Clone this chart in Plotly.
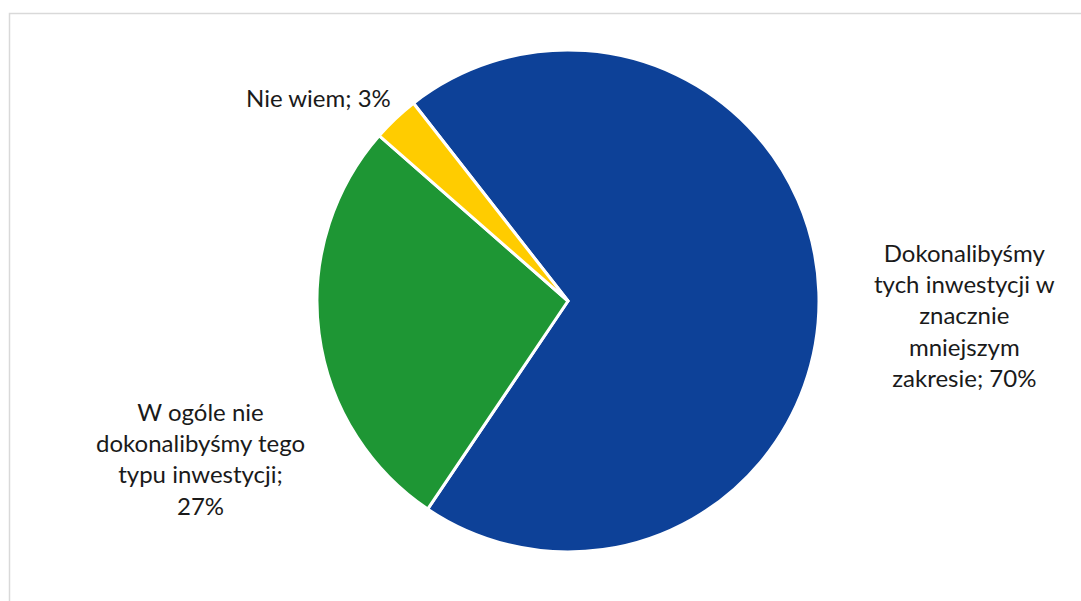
import plotly.graph_objects as go

# Survey answers and their shares (%)
labels = [
    "Dokonalibyśmy<br>tych inwestycji w<br>znacznie<br>mniejszym<br>zakresie",
    "W ogóle nie<br>dokonalibyśmy tego<br>typu inwestycji;<br>",
    "Nie wiem",
]
values = [70, 27, 3]
colors = ["#0D4198", "#1E9634", "#FFCC00"]

W, H = 1081, 601
cx, cy, r = 568, 301, 251

fig = go.Figure(
    go.Pie(
        labels=labels,
        values=values,
        sort=False,
        direction="clockwise",
        rotation=-38,
        marker=dict(colors=colors, line=dict(color="white", width=3)),
        textinfo="none",
        hoverinfo="label+percent",
        domain=dict(x=[(cx - r) / W, (cx + r) / W],
                    y=[(H - cy - r) / H, (H - cy + r) / H]),
        showlegend=False,
    )
)

# Outside data labels: "<category>; <value>%"
label_pos = [
    dict(x=964 / W, y=1 - 315 / H, xanchor="center", align="center"),
    dict(x=200 / W, y=1 - 458 / H, xanchor="center", align="center"),
    dict(x=393 / W, y=1 - 98 / H, xanchor="right", align="right"),
]
annotations = []
for lab, val, pos in zip(labels, values, label_pos):
    sep = "" if lab.endswith("<br>") else "; "
    annotations.append(dict(
        text=f"{lab}{sep}{val}%",
        xref="paper", yref="paper",
        x=pos["x"], y=pos["y"],
        xanchor=pos["xanchor"], yanchor="middle",
        align=pos["align"], showarrow=False,
        font=dict(family="Lato, Carlito, sans-serif", size=24, color="#1a1a1a"),
    ))

fig.update_layout(
    width=W, height=H,
    margin=dict(l=0, r=0, t=0, b=0),
    paper_bgcolor="white",
    plot_bgcolor="white",
    annotations=annotations,
    shapes=[dict(
        type="rect", xref="paper", yref="paper",
        x0=9.5 / W, x1=1.02, y0=-0.02, y1=1 - 13.5 / H,
        line=dict(color="#D9D9D9", width=1.5),
        fillcolor="rgba(0,0,0,0)",
    )],
)

fig.write_html("out.html")
